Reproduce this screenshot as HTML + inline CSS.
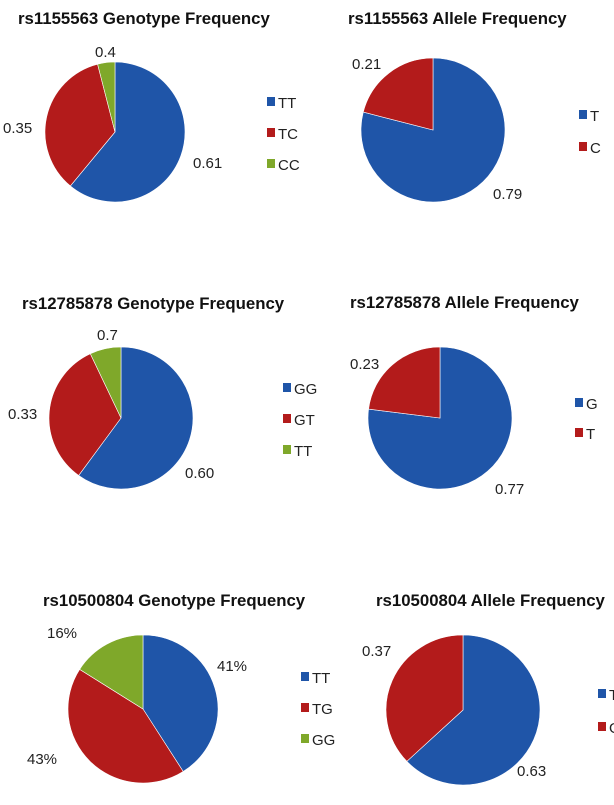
<!DOCTYPE html>
<html><head><meta charset="utf-8"><style>
body{margin:0;background:#fff;width:614px;height:800px;overflow:hidden;font-family:"Liberation Sans",sans-serif}
svg text{font-family:"Liberation Sans",sans-serif}
</style></head><body>
<svg id="c" width="614" height="800" viewBox="0 0 614 800"></svg>
<script>
const titles = ["rs1155563 Genotype Frequency","rs1155563 Allele Frequency","rs12785878 Genotype Frequency","rs12785878 Allele Frequency","rs10500804 Genotype Frequency","rs10500804 Allele Frequency"];
const cats1 = ["TT","TC","CC"];
const vals1 = [0.61,0.35,0.04];
const labs1 = ["0.61","0.35","0.4"];
const cats2 = ["T","C"];
const vals2 = [0.79,0.21];
const labs2 = ["0.79","0.21"];
const cats3 = ["GG","GT","TT"];
const vals3 = [0.60,0.33,0.07];
const labs3 = ["0.60","0.33","0.7"];
const cats4 = ["G","T"];
const vals4 = [0.77,0.23];
const labs4 = ["0.77","0.23"];
const cats5 = ["TT","TG","GG"];
const vals5 = [0.41,0.43,0.16];
const labs5 = ["41%","43%","16%"];
const cats6 = ["T","G"];
const vals6 = [0.63,0.37];
const labs6 = ["0.63","0.37"];
const colors = ["#1f55a8","#b31b1b","#7fa82a"];
const NS="http://www.w3.org/2000/svg";
const svg=document.getElementById('c');
function mk(t,a){const e=document.createElementNS(NS,t);for(const k in a)e.setAttribute(k,a[k]);return e;}
const L=[
 {tx:18,ty:24,cx:115,cy:132,rx:70,ry:70,lx:267,ly:102,dy:31,lab:[[193,168],[3,133],[95,57]]},
 {tx:348,ty:24,cx:433,cy:130,rx:72,ry:72,lx:579,ly:115,dy:32,lab:[[493,199],[352,69]]},
 {tx:22,ty:309,cx:121,cy:418,rx:72,ry:71,lx:283,ly:388,dy:31,lab:[[185,478],[8,419],[97,340]]},
 {tx:350,ty:308,cx:440,cy:418,rx:72,ry:71,lx:575,ly:403,dy:30,lab:[[495,494],[350,369]]},
 {tx:43,ty:606,cx:143,cy:709,rx:75,ry:74,lx:301,ly:677,dy:31,lab:[[217,671],[27,764],[47,638]]},
 {tx:376,ty:606,cx:463,cy:710,rx:77,ry:75,lx:598,ly:694,dy:33,lab:[[517,776],[362,656]]}
];
const allC=[cats1,cats2,cats3,cats4,cats5,cats6],allV=[vals1,vals2,vals3,vals4,vals5,vals6],allL=[labs1,labs2,labs3,labs4,labs5,labs6];
L.forEach((p,i)=>{
 const g=mk('g',{});
 
 
 svg.appendChild(g);
 const t=mk('text',{x:p.tx,y:p.ty,'font-size':'16.8','font-weight':'bold',fill:'#111'});
 
 
 t.textContent=titles[i];g.appendChild(t);
 const vals=allV[i],cats=allC[i],labs=allL[i];
 const tot=vals.reduce((a,b)=>a+b,0);
 let a0=0;
 vals.forEach((v,j)=>{
  const a1=a0+v/tot*2*Math.PI;
  const pt=a=>[p.cx+p.rx*Math.sin(a),p.cy-p.ry*Math.cos(a)];
  const [x0,y0]=pt(a0),[x1,y1]=pt(a1);
  const large=(a1-a0)>Math.PI?1:0;
  const path=mk('path',{d:`M${p.cx},${p.cy}L${x0},${y0}A${p.rx},${p.ry} 0 ${large} 1 ${x1},${y1}Z`,fill:colors[j],stroke:'#fff','stroke-width':'0.6'});
  
  
  g.appendChild(path);
  a0=a1;
  const lt=mk('text',{x:p.lab[j][0],y:p.lab[j][1],'font-size':'15',fill:'#222'});
  
  
  lt.textContent=labs[j];g.appendChild(lt);
  const r=mk('rect',{x:p.lx,y:p.ly+j*p.dy-5,width:8,height:9,fill:colors[j]});
  
  
  g.appendChild(r);
  const le=mk('text',{x:p.lx+11,y:p.ly+j*p.dy+6,'font-size':'15',fill:'#222'});
  
  
  le.textContent=cats[j];g.appendChild(le);
 });
});
</script>
</body></html>
